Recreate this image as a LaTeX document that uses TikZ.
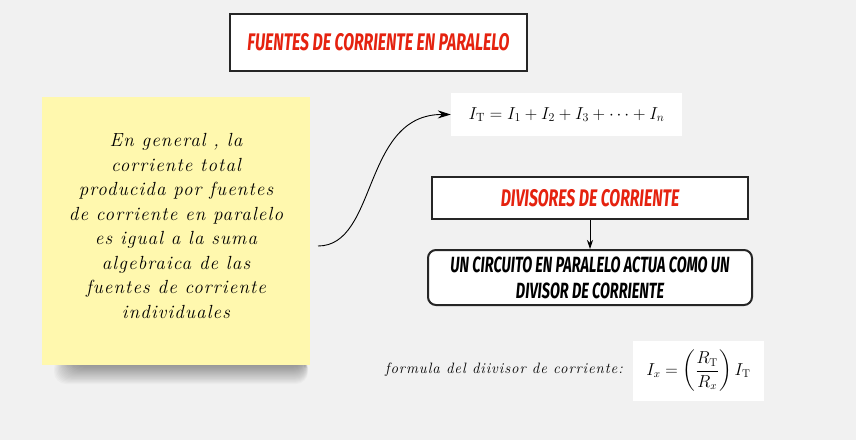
\documentclass[tikz,border=0pt]{standalone}
\usepackage{amsmath}
\usepackage{fontspec}
\usepackage{xcolor}
\usetikzlibrary{arrows.meta,positioning}
\newfontfamily\capsfont[FakeStretch=0.66]{Fira Sans}
\newfontfamily\handfont[LetterSpace=6]{Latin Modern Roman}
\definecolor{paper}{HTML}{F1F1F1}
\definecolor{ink}{HTML}{262626}
\definecolor{capred}{HTML}{E5220F}
\definecolor{notey}{HTML}{FFF8AE}
\tikzset{
  frame/.style={draw=ink,fill=white,line width=2.5pt,inner sep=0pt},
  capt/.style={font=\capsfont\fontsize{24}{28}\selectfont\bfseries\itshape,text=capred},
  capk/.style={font=\capsfont\fontsize{22}{26}\selectfont\bfseries\itshape,text=black,align=center},
  hand/.style={font=\handfont\fontsize{19}{24.5}\selectfont\itshape,align=center},
  eqbox/.style={fill=white,inner sep=0pt},
  arr/.style={-{Stealth[length=13pt,width=8pt]},line width=0.9pt,color=black},
  arrs/.style={-{Stealth[length=9pt,width=6pt]},line width=0.9pt,color=black},
}
\begin{document}
\begin{tikzpicture}[x=1pt,y=-1pt]
\fill[paper] (0,0) rectangle (856,440);
\useasboundingbox (0,0) rectangle (856,440);
% title
\node[frame,minimum width=297pt,minimum height=57pt] (title) at (378.5,42.5) {};
\node[capt] (titletxt) at (title.center) {FUENTES DE CORRIENTE EN PARALELO};
% sticky note with its soft shadow
\foreach \i in {1,...,20}
  \fill[black,opacity=0.022,rounded corners=12pt] (78-\i*1.2,356) rectangle (304+\i*0.2,362+\i*1.1);
\node[fill=notey,minimum width=268pt,minimum height=268pt,inner sep=0pt] (note) at (176,231) {};
\node[hand] (notetxt) at (176,226) {En general , la\\corriente total\\producida por fuentes\\de corriente en paralelo\\es igual a la suma\\algebraica de las\\fuentes de corriente\\individuales};
% sum of sources
\node[eqbox,minimum width=231pt,minimum height=43pt] (sum) at (566.5,114.5) {};
\node (sumtxt) at (sum.center) {\fontsize{17}{20}\selectfont $I_{\mathrm{T}} = I_1 + I_2 + I_3 + \cdots + I_n$};
\coordinate (cs) at (318,246);
\draw[arr] (cs) .. controls (378,246) and (362,114) .. (sum.west);
% divider
\node[frame,minimum width=316pt,minimum height=42pt] (divt) at (590,198) {};
\node[capt] (divttxt) at (divt.center) {DIVISORES DE CORRIENTE};
\node[frame,line width=2pt,rounded corners=8pt,minimum width=324pt,minimum height=55pt] (circ) at (590,277.5) {};
\node[capk] (circtxt) at (circ.center) {UN CIRCUITO EN PARALELO ACTUA COMO UN\\DIVISOR DE CORRIENTE};
\draw[arrs] (divt.south) -- (circ.north);
% divider formula
\node[hand,font=\handfont\fontsize{15}{20}\selectfont\itshape] (flab) at (504,370) {formula del diivisor de corriente:};
\node[eqbox,minimum width=131pt,minimum height=60pt] (divf) at (698.5,371) {};
\node (divftxt) at (divf.center) {\fontsize{16}{19}\selectfont $I_x = \left(\dfrac{R_{\mathrm{T}}}{R_x}\right) I_{\mathrm{T}}$};
\end{tikzpicture}
\end{document}
